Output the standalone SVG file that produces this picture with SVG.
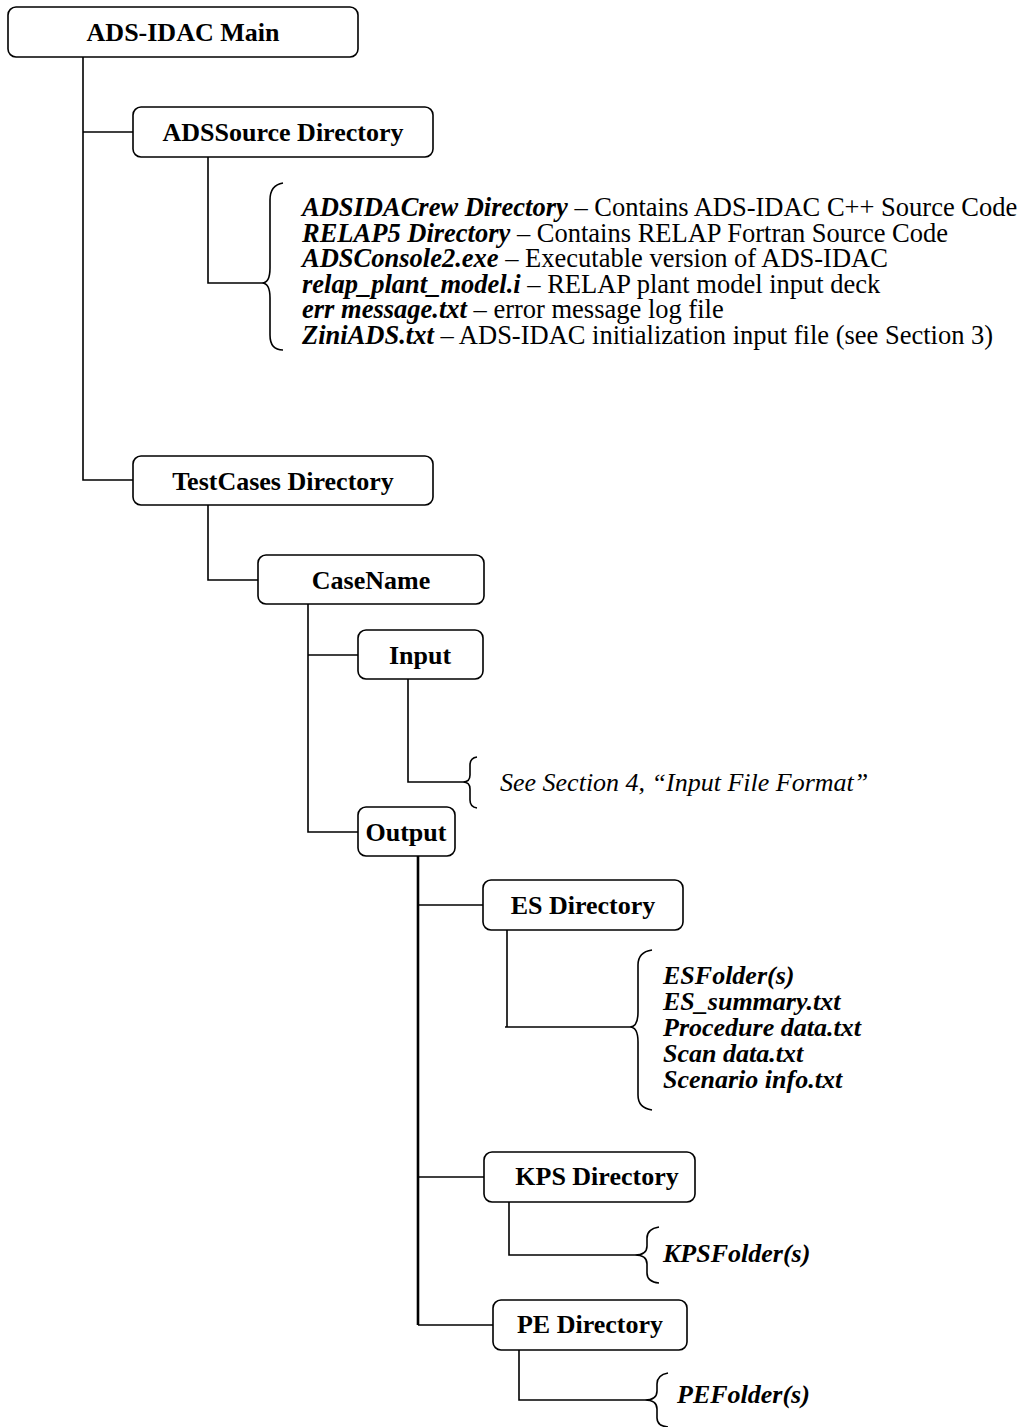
<svg xmlns="http://www.w3.org/2000/svg" width="1030" height="1427" viewBox="0 0 1030 1427">
<style>
.box{fill:#fff;stroke:#000;stroke-width:1.6}
.lbl{font-family:"Liberation Serif","Times New Roman",serif;font-size:26px;font-weight:bold;fill:#000;text-anchor:middle}
.it{font-family:"Liberation Serif","Times New Roman",serif;font-size:26px;fill:#000}
.big{font-size:26.5px}
.bi{font-weight:bold;font-style:italic}
.ri{font-style:italic}
.ln{fill:none;stroke:#000;stroke-width:1.6}
.thick{stroke-width:2.6}
</style>
<rect width="1030" height="1427" fill="#fff"/>
<g id="connectors">
<path class="ln" d="M83,57 V480 H133"/>
<path class="ln" d="M83,132 H133"/>
<path class="ln" d="M208,157 V283 H262"/>
<path class="ln" d="M208,505 V580 H258"/>
<path class="ln" d="M308,604 V832 H358"/>
<path class="ln" d="M308,655 H358"/>
<path class="ln" d="M408,679 V782 H463"/>
<path class="ln thick" d="M418,856 V1325"/>
<path class="ln" d="M418,905 H483"/>
<path class="ln" d="M418,1177 H484"/>
<path class="ln" d="M418,1325 H493"/>
<path class="ln" d="M507,930 V1027"/>
<path class="ln" d="M505,1027 H630"/>
<path class="ln" d="M509,1202 V1255 H635"/>
<path class="ln" d="M519,1350 V1400 H645"/>
</g>
<g id="braces">
<path class="ln" d="M283,183 Q270,185 270,200 V268 Q270,283 262,283 Q270,283 270,298 V335 Q270,350 283,350"/>
<path class="ln" d="M477,757 Q470,758 470,765 V775 Q470,782 463,782 Q470,782 470,789 V800 Q470,807 477,808"/>
<path class="ln" d="M652,950 Q638,952 638,965 V1012 Q638,1027 630,1027 Q638,1027 638,1042 V1095 Q638,1108 652,1110"/>
<path class="ln" d="M659,1227 Q647,1229 647,1238 V1246 Q647,1255 635,1255 Q647,1255 647,1264 V1273 Q647,1282 659,1283"/>
<path class="ln" d="M668,1373 Q657,1375 657,1384 V1391 Q657,1400 645,1400 Q657,1400 657,1409 V1418 Q657,1426 668,1427"/>
</g>
<g id="main">
<rect class="box" x="8" y="7" width="350" height="50" rx="8"/>
<text class="lbl" x="183" y="41">ADS-IDAC Main</text>
</g>
<g id="adssource">
<rect class="box" x="133" y="107" width="300" height="50" rx="8"/>
<text class="lbl" x="283" y="141">ADSSource Directory</text>
</g>
<g id="adssource-files">
<text class="it big" x="302" y="216"><tspan class="bi">ADSIDACrew Directory</tspan> – Contains ADS-IDAC C++ Source Code</text>
<text class="it big" x="302" y="241.5"><tspan class="bi">RELAP5 Directory</tspan> – Contains RELAP Fortran Source Code</text>
<text class="it big" x="302" y="267"><tspan class="bi">ADSConsole2.exe</tspan> – Executable version of ADS-IDAC</text>
<text class="it big" x="302" y="292.5"><tspan class="bi">relap_plant_model.i</tspan> – RELAP plant model input deck</text>
<text class="it big" x="302" y="318"><tspan class="bi">err message.txt</tspan> – error message log file</text>
<text class="it big" x="302" y="343.5"><tspan class="bi">ZiniADS.txt</tspan> – ADS-IDAC initialization input file (see Section 3)</text>
</g>
<g id="testcases">
<rect class="box" x="133" y="456" width="300" height="49" rx="8"/>
<text class="lbl" x="283" y="490">TestCases Directory</text>
</g>
<g id="casename">
<rect class="box" x="258" y="555" width="226" height="49" rx="8"/>
<text class="lbl" x="371" y="589">CaseName</text>
</g>
<g id="input">
<rect class="box" x="358" y="630" width="125" height="49" rx="8"/>
<text class="lbl" x="420" y="664">Input</text>
</g>
<g id="input-note">
<text class="it ri" x="500" y="791">See Section 4, “Input File Format”</text>
</g>
<g id="output">
<rect class="box" x="358" y="807" width="97" height="49" rx="8"/>
<text class="lbl" x="406" y="841">Output</text>
</g>
<g id="es">
<rect class="box" x="483" y="880" width="200" height="50" rx="8"/>
<text class="lbl" x="583" y="914">ES Directory</text>
</g>
<g id="es-files">
<text class="it bi" x="663" y="984">ESFolder(s)</text>
<text class="it bi" x="663" y="1010">ES_summary.txt</text>
<text class="it bi" x="663" y="1036">Procedure data.txt</text>
<text class="it bi" x="663" y="1062">Scan data.txt</text>
<text class="it bi" x="663" y="1088">Scenario info.txt</text>
</g>
<g id="kps">
<rect class="box" x="484" y="1152" width="211" height="50" rx="8"/>
<text class="lbl" x="597" y="1185">KPS Directory</text>
</g>
<g id="kps-files">
<text class="it bi" x="663" y="1262">KPSFolder(s)</text>
</g>
<g id="pe">
<rect class="box" x="493" y="1300" width="194" height="50" rx="8"/>
<text class="lbl" x="590" y="1333">PE Directory</text>
</g>
<g id="pe-files">
<text class="it bi" x="677" y="1403">PEFolder(s)</text>
</g>
</svg>
